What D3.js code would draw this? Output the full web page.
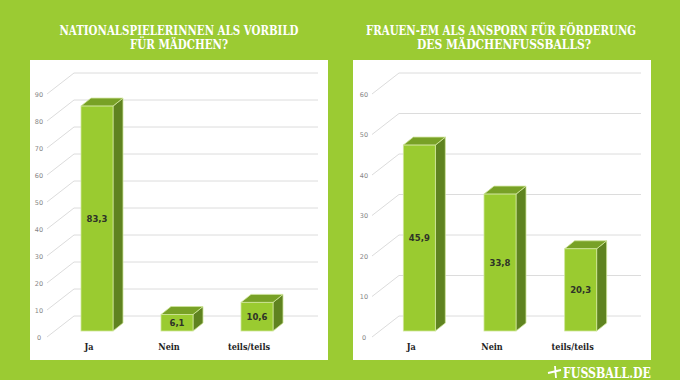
<!DOCTYPE html>
<html><head><meta charset="utf-8">
<script src="https://cdn.jsdelivr.net/npm/d3@7"></script>
<style>html,body{margin:0;padding:0;background:#9bcb33;}svg{display:block;}</style>
</head><body>
<svg id="c" width="680" height="380"></svg>
<script>
const categories = ["Ja", "Nein", "teils/teils"];
const leftValues = [83.3, 6.1, 10.6];
const rightValues = [45.9, 33.8, 20.3];
const leftTicks = [0, 10, 20, 30, 40, 50, 60, 70, 80, 90];
const rightTicks = [0, 10, 20, 30, 40, 50, 60];
const leftTitle = ["NATIONALSPIELERINNEN ALS VORBILD", "FÜR MÄDCHEN?"];
const rightTitle = ["FRAUEN-EM ALS ANSPORN FÜR FÖRDERUNG", "DES MÄDCHENFUSSBALLS?"];
const fmt = v => String(v).replace(".", ",");

const svg = d3.select("#c");
svg.append("rect").attr("width", 680).attr("height", 380).attr("fill", "#9bcb33");

const SLAB = "'DejaVu Serif Condensed','DejaVu Serif',serif";
const DX = 27, DY = -21;

function panel(opt) {
  const g = svg.append("g");
  g.append("rect").attr("x", opt.px).attr("y", 60).attr("width", 298).attr("height", 300).attr("fill", "#fff");
  opt.title.forEach((t, i) => {
    g.append("text").attr("x", opt.tcx[i]).attr("y", [35, 48.5][i])
      .attr("text-anchor", "middle").attr("fill", "#fff")
      .attr("font-family", SLAB).attr("font-weight", "bold").attr("font-size", 12.5)
      .attr("textLength", opt.tw[i]).attr("lengthAdjust", "spacingAndGlyphs").text(t);
  });
  const y = d3.scaleLinear().domain([0, opt.max]).range([337, 94]);
  const x = d3.scaleBand().domain(categories).range(opt.xr);
  const xf = opt.xf;
  opt.ticks.forEach(v => {
    g.append("path").attr("fill", "none").attr("stroke", "#dcdcdc").attr("stroke-width", 1)
      .attr("d", `M${xf},${y(v)}L${xf + DX},${y(v) + DY}H${opt.xe}`);
    g.append("text").attr("x", xf - 8).attr("y", y(v) + 2.5).attr("text-anchor", "middle")
      .attr("fill", "#858585").attr("font-family", "'DejaVu Sans',sans-serif").attr("font-size", 6.5).text(v);
  });
  const bw = 32, bdx = 10, bdy = -8, off = 8, offy = -6;
  opt.values.forEach((v, i) => {
    const c = categories[i];
    const cx = x(c) + x.bandwidth() / 2;
    const x0 = cx + off - bw / 2, x1 = x0 + bw;
    const yb = y(0) + offy, yt = y(v) + offy;
    const st = "#cfe59a";
    g.append("path").attr("fill", "#5f8320").attr("stroke", st).attr("stroke-width", 0.8)
      .attr("d", `M${x1},${yt}L${x1 + bdx},${yt + bdy}V${yb + bdy}L${x1},${yb}Z`);
    g.append("path").attr("fill", "#78a126").attr("stroke", st).attr("stroke-width", 0.8)
      .attr("d", `M${x0},${yt}L${x0 + bdx},${yt + bdy}H${x1 + bdx}L${x1},${yt}Z`);
    g.append("rect").attr("x", x0).attr("y", yt).attr("width", bw).attr("height", yb - yt)
      .attr("fill", "#9acb30").attr("stroke", st).attr("stroke-width", 0.8);
    g.append("text").attr("x", (x0 + x1) / 2).attr("y", (yt + yb) / 2 + 3).attr("text-anchor", "middle")
      .attr("fill", "#2e3328").attr("font-family", "'DejaVu Sans',sans-serif").attr("font-weight", "bold")
      .attr("font-size", 8.5).text(fmt(v));
    g.append("text").attr("x", cx).attr("y", 350).attr("text-anchor", "middle")
      .attr("fill", "#1e1e1e").attr("font-family", SLAB).attr("font-weight", "bold")
      .attr("font-size", 9).text(c);
  });
}

panel({px: 30, title: leftTitle, tcx: [179, 179], tw: [239, 98], max: 90, ticks: leftTicks,
  values: leftValues, xr: [49, 289], xf: 47, xe: 318});
panel({px: 353, title: rightTitle, tcx: [501, 504], tw: [270, 174], max: 60, ticks: rightTicks,
  values: rightValues, xr: [371, 613], xf: 372, xe: 641});

const lg = svg.append("g");
lg.append("path").attr("fill", "none").attr("stroke", "#fff").attr("stroke-width", 1.8)
  .attr("d", "M548,373 L561,370 M555,366 L556,378");
lg.append("text").attr("x", 563).attr("y", 377.5).attr("fill", "#fff").attr("font-family", SLAB)
  .attr("font-weight", "bold").attr("font-size", 14).attr("textLength", 88)
  .attr("lengthAdjust", "spacingAndGlyphs").text("FUSSBALL.DE");
</script>
</body></html>
